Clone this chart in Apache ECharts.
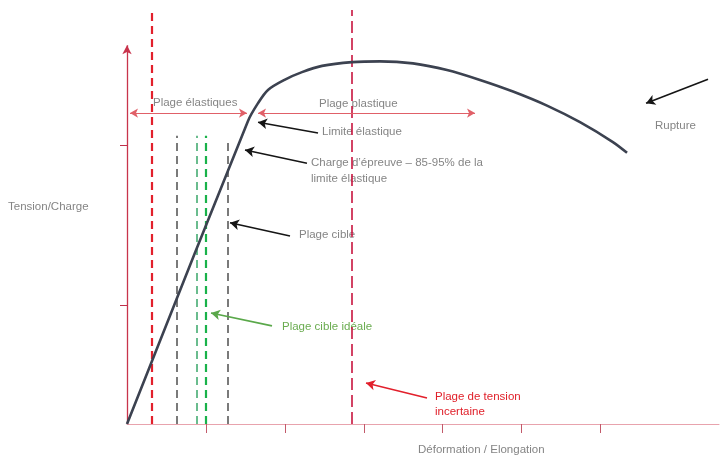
<!DOCTYPE html>
<html><head><meta charset="utf-8">
<script src="https://cdn.jsdelivr.net/npm/echarts@6/dist/echarts.min.js"></script>
<style>html,body{margin:0;padding:0;background:#fff}#c{width:720px;height:460px}</style>
</head><body><div id="c"></div>
<script>
// Curve: deformation (x, tick units) vs tension (y, arbitrary units)
const curveX = [0, 1.533, 1.660, 1.786, 2.002, 2.217, 2.471, 2.851, 3.205, 3.623, 4.054, 4.472, 4.890, 5.321, 5.739, 6.156, 6.335];
const curveY = [0, 73.2, 77.5, 80.7, 83.2, 85.0, 86.5, 87.4, 87.6, 87.1, 85.5, 83.1, 80.3, 76.9, 72.9, 68.1, 65.5];
const xTicks = [1, 2, 3, 4, 5, 6];
const yTicks = [28.7, 67.4];
const yAxisTop = 91.5;
// vertical reference lines: [x, top]
const redLines = [[0.317, 100], [2.851, 100]];
const greyLines = [[0.633, 69.6], [1.280, 68.6]];
const greenLines = [[0.887, 69.6], [0.995, 69.6]];
// ranges
const rangeY = 75.1;
const elasticRange = [0.038, 1.52];
const plasticRange = [1.66, 4.409];
// annotation arrows: [tailX, tailY, headX, headY]
const blackArrows = [
  [2.420, 70.3, 1.660, 72.9],
  [2.280, 63.0, 1.495, 66.2],
  [2.065, 45.4, 1.305, 48.6],
  [7.361, 83.3, 6.576, 77.5]
];
const greenArrow = [1.837, 23.7, 1.064, 26.8];
const redArrow = [3.801, 6.3, 3.028, 9.9];

const FONT = '"Liberation Sans", Arial, sans-serif';
const grey = '#858585';

function seg(a, style) {
  return [{coord: [a[0], a[1]], lineStyle: style}, {coord: [a[2], a[3]]}];
}
function vline(l, style) {
  return [{coord: [l[0], 0], lineStyle: style}, {coord: [l[0], l[1]]}];
}
function txt(t, x, y, color, size) {
  return {type: 'text', x: x, y: y, style: {text: t, fill: color || grey, font: (size || 11.5) + 'px ' + FONT, verticalAlign: 'middle'}};
}

const chart = echarts.init(document.getElementById('c'), null, {renderer: 'canvas'});
chart.setOption({
  animation: false,
  grid: {left: 127, right: 1, top: 10, bottom: 36},
  xAxis: {
    type: 'value', min: 0, max: 7.5,
    axisLine: {show: true, lineStyle: {color: '#e8a3ad', width: 1}},
    axisTick: {show: true, length: 9, customValues: xTicks, lineStyle: {color: '#c25a6a'}},
    axisLabel: {show: false}, splitLine: {show: false}
  },
  yAxis: {
    type: 'value', min: 0, max: 100,
    axisLine: {show: false},
    axisTick: {show: true, length: 7, customValues: yTicks, lineStyle: {color: '#c0304a'}},
    axisLabel: {show: false}, splitLine: {show: false}
  },
  series: [
    {
      type: 'line', data: curveX.map((x, i) => [x, curveY[i]]),
      smooth: 0.3, showSymbol: false, symbol: 'none',
      lineStyle: {color: '#3c4250', width: 2.6},
      z: 5
    },
    {
      type: 'line', data: [], z: 3,
      markLine: {
        silent: true, label: {show: false}, symbol: ['none', 'none'], animation: false,
        data: [
          vline(redLines[0], {color: '#e2202c', width: 2.2, type: [8, 5]}),
          vline(redLines[1], {color: '#c8143f', width: 1.6, type: [12, 5]}),
          vline(greyLines[0], {color: '#7a7a7a', width: 2, type: [8, 5]}),
          vline(greyLines[1], {color: '#7a7a7a', width: 2, type: [8, 5]}),
          vline(greenLines[0], {color: '#3aa76a', width: 1.5, type: [8, 5]}),
          vline(greenLines[1], {color: '#19b24a', width: 2.2, type: [8, 5]})
        ]
      }
    },
    {
      type: 'line', data: [], z: 4,
      markLine: {
        silent: true, label: {show: false}, symbol: ['none', 'arrow'], symbolSize: [7, 9], animation: false,
        data: [
          [{coord: [0, 0], lineStyle: {color: '#c8344c', width: 1.3, type: 'solid'}}, {coord: [0, yAxisTop]}]
        ]
      }
    },
    {
      type: 'line', data: [], z: 4,
      markLine: {
        silent: true, label: {show: false}, symbol: ['arrow', 'arrow'], symbolSize: [7, 8], animation: false,
        data: [
          [{coord: [elasticRange[0], rangeY], lineStyle: {color: '#e06068', width: 1, type: 'solid'}}, {coord: [elasticRange[1], rangeY]}],
          [{coord: [plasticRange[0], rangeY], lineStyle: {color: '#e06068', width: 1, type: 'solid'}}, {coord: [plasticRange[1], rangeY]}]
        ]
      }
    },
    {
      type: 'line', data: [], z: 6,
      markLine: {
        silent: true, label: {show: false}, symbol: ['none', 'arrow'], symbolSize: [8, 9], animation: false,
        data: blackArrows.map(a => seg(a, {color: '#151515', width: 1.6, type: 'solid'}))
          .concat([seg(greenArrow, {color: '#5aa84a', width: 1.6, type: 'solid'}),
                   seg(redArrow, {color: '#e2202c', width: 1.6, type: 'solid'})])
      }
    }
  ],
  graphic: [
    txt('Plage élastiques', 153, 103),
    txt('Plage plastique', 319, 104),
    txt('Limite élastique', 322, 132),
    txt('Charge d\u2019épreuve – 85-95% de la', 311, 163),
    txt('limite élastique', 311, 179),
    txt('Plage cible', 299, 235),
    txt('Plage cible idéale', 282, 327, '#6aac50'),
    txt('Plage de tension', 435, 397, '#e0202a'),
    txt('incertaine', 435, 412, '#e0202a'),
    txt('Rupture', 655, 126),
    txt('Tension/Charge', 8, 207),
    txt('Déformation / Elongation', 418, 450)
  ]
});
</script></body></html>
